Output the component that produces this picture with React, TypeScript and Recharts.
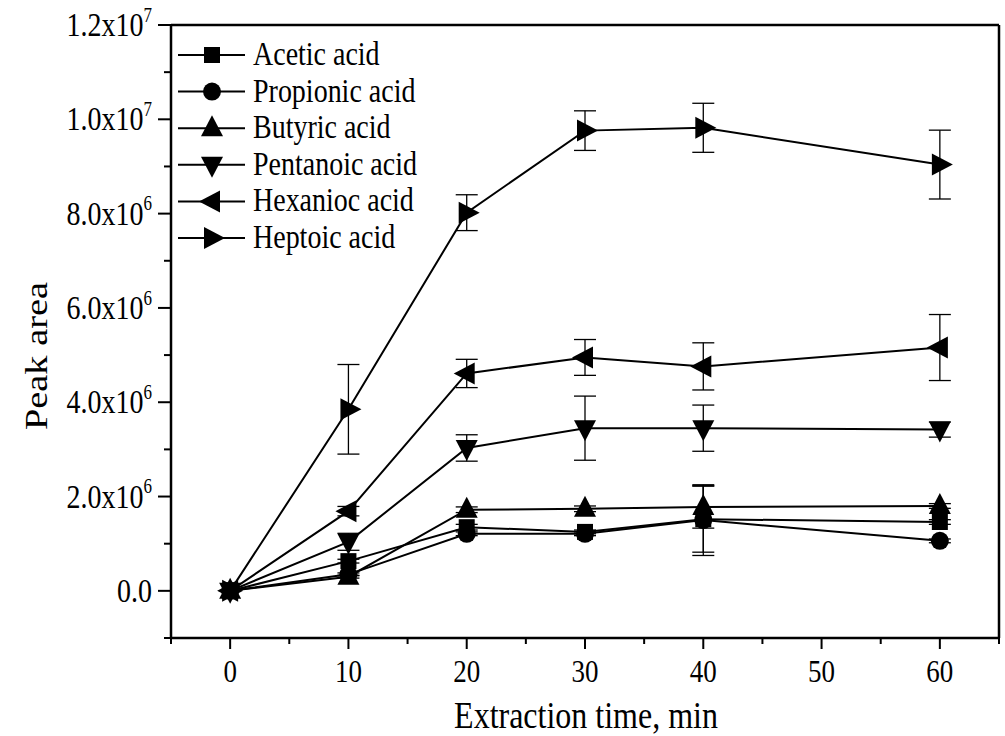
import { LineChart, Line, XAxis, YAxis, ErrorBar, ReferenceLine } from 'recharts'

const times = [0, 10, 20, 30, 40, 60]

const acetic = [0, 630000, 1350000, 1250000, 1520000, 1460000]
const propionic = [0, 350000, 1210000, 1210000, 1500000, 1060000]
const butyric = [0, 300000, 1720000, 1740000, 1780000, 1800000]
const pentanoic = [0, 1040000, 3030000, 3450000, 3450000, 3420000]
const hexanoic = [0, 1690000, 4610000, 4950000, 4760000, 5160000]
const heptoic = [0, 3850000, 8020000, 9760000, 9820000, 9040000]

const aceticErr = [0, 40000, 60000, 40000, 700000, 50000]
const propionicErr = [0, 30000, 40000, 40000, 750000, 40000]
const butyricErr = [0, 30000, 60000, 60000, 450000, 50000]
const pentanoicErr = [0, 180000, 280000, 680000, 490000, 160000]
const hexanoicErr = [0, 100000, 300000, 380000, 500000, 700000]
const heptoicErr = [0, 950000, 380000, 420000, 520000, 730000]

const xTicks = [-5, 0, 5, 10, 15, 20, 25, 30, 35, 40, 45, 50, 55, 60, 65]
const yTicks = [
  -1000000, 0, 1000000, 2000000, 3000000, 4000000, 5000000, 6000000, 7000000, 8000000, 9000000,
  10000000, 11000000, 12000000,
]

const FONT = '"Liberation Serif", "Times New Roman", serif'

type Shape = 'square' | 'circle' | 'up' | 'down' | 'left' | 'right'

const series: { key: string; name: string; shape: Shape; values: number[]; errors: number[] }[] = [
  { key: 'acetic', name: 'Acetic acid', shape: 'square', values: acetic, errors: aceticErr },
  { key: 'propionic', name: 'Propionic acid', shape: 'circle', values: propionic, errors: propionicErr },
  { key: 'butyric', name: 'Butyric acid', shape: 'up', values: butyric, errors: butyricErr },
  { key: 'pentanoic', name: 'Pentanoic acid', shape: 'down', values: pentanoic, errors: pentanoicErr },
  { key: 'hexanoic', name: 'Hexanioc acid', shape: 'left', values: hexanoic, errors: hexanoicErr },
  { key: 'heptoic', name: 'Heptoic acid', shape: 'right', values: heptoic, errors: heptoicErr },
]

const data = times.map((t, i) => {
  const row: Record<string, number> = { time: t }
  series.forEach((s) => {
    row[s.key] = s.values[i]
    row[s.key + 'Err'] = s.errors[i]
  })
  return row
})

function Marker({ shape, cx, cy }: { shape: Shape; cx: number; cy: number }) {
  if (cx == null || cy == null) return null
  switch (shape) {
    case 'square':
      return <rect x={cx - 8} y={cy - 8} width={16} height={16} fill="#000" />
    case 'circle':
      return <circle cx={cx} cy={cy} r={9} fill="#000" />
    case 'up':
      return <polygon points={`${cx - 11},${cy + 8} ${cx + 11},${cy + 8} ${cx},${cy - 13}`} fill="#000" />
    case 'down':
      return <polygon points={`${cx - 11},${cy - 8} ${cx + 11},${cy - 8} ${cx},${cy + 13}`} fill="#000" />
    case 'left':
      return <polygon points={`${cx + 8},${cy - 11} ${cx + 8},${cy + 11} ${cx - 13},${cy}`} fill="#000" />
    default:
      return <polygon points={`${cx - 8},${cy - 11} ${cx - 8},${cy + 11} ${cx + 13},${cy}`} fill="#000" />
  }
}

function XTick({ x, y, payload }: any) {
  const v = payload.value
  const major = v % 10 === 0 && v >= 0 && v <= 60
  return (
    <g>
      <line x1={x} x2={x} y1={y} y2={y + (major ? 11 : 6)} stroke="#000" strokeWidth={2} />
      {major && (
        <text
          transform={`translate(${x},${y + 44}) scale(1,1.2)`}
          textAnchor="middle"
          fontSize={27}
          fontFamily={FONT}
          fill="#000"
        >
          {v}
        </text>
      )}
    </g>
  )
}

function YTick({ x, y, payload }: any) {
  const v = payload.value
  const major = v % 2000000 === 0 && v >= 0
  let label: any = null
  if (major) {
    if (v === 0) {
      label = '0.0'
    } else {
      const exp = v >= 10000000 ? 7 : 6
      const mant = (v / Math.pow(10, exp)).toFixed(1)
      label = (
        <>
          {mant + 'x10'}
          <tspan fontSize={17} dy={-12}>
            {exp}
          </tspan>
        </>
      )
    }
  }
  return (
    <g>
      <line x1={x - (major ? 13 : 7)} x2={x} y1={y} y2={y} stroke="#000" strokeWidth={2} />
      {major && (
        <text
          transform={`translate(${x - 19},${y + 11}) scale(1,1.2)`}
          textAnchor="end"
          fontSize={28}
          fontFamily={FONT}
          fill="#000"
        >
          {label}
        </text>
      )}
    </g>
  )
}

function LegendBox() {
  return (
    <svg width={260} height={240} style={{ position: 'absolute', left: 171, top: 25 }}>
      {series.map((s, i) => {
        const cy = 30 + i * 36.6
        return (
          <g key={s.key}>
            <line x1={7} x2={74} y1={cy} y2={cy} stroke="#000" strokeWidth={2} />
            <Marker shape={s.shape} cx={41} cy={cy} />
            <text
              transform={`translate(82,${cy + 10}) scale(1,1.2)`}
              fontSize={28}
              fontFamily={FONT}
              fill="#000"
            >
              {s.name}
            </text>
          </g>
        )
      })}
    </svg>
  )
}

export default function App() {
  return (
    <div style={{ position: 'absolute', left: 0, top: 0, width: 1005, height: 736, background: '#fff' }}>
      <LineChart width={1005} height={736} data={data} margin={{ top: 25, right: 6, bottom: 0, left: 0 }}>
        <XAxis
          dataKey="time"
          type="number"
          domain={[-5, 65]}
          ticks={xTicks}
          interval={0}
          height={98}
          tickSize={0}
          tickMargin={0}
          tickLine={false}
          axisLine={{ stroke: '#000', strokeWidth: 2.5 }}
          tick={<XTick />}
          label={{
            content: () => (
              <text
                transform="translate(586,728) scale(1,1.2)"
                textAnchor="middle"
                fontSize={32}
                fontFamily={FONT}
                fill="#000"
              >
                Extraction time, min
              </text>
            ),
          }}
        />
        <YAxis
          type="number"
          domain={[-1000000, 12000000]}
          ticks={yTicks}
          interval={0}
          width={171}
          tickSize={0}
          tickMargin={0}
          tickLine={false}
          axisLine={{ stroke: '#000', strokeWidth: 2.5 }}
          tick={<YTick />}
          label={{
            content: () => (
              <text
                transform="translate(47,356) scale(1,1.2) rotate(-90)"
                textAnchor="middle"
                fontSize={32}
                fontFamily={FONT}
                fill="#000"
              >
                Peak area
              </text>
            ),
          }}
        />
        <ReferenceLine x={65} stroke="#000" strokeWidth={2.5} />
        <ReferenceLine y={12000000} stroke="#000" strokeWidth={2.5} />
        {series.map((s) => (
          <Line
            key={s.key}
            type="linear"
            dataKey={s.key}
            name={s.name}
            stroke="#000"
            strokeWidth={2}
            isAnimationActive={false}
            activeDot={false}
            dot={(p: any) => <Marker key={`${s.key}-${p.index}`} shape={s.shape} cx={p.cx} cy={p.cy} />}
          >
            <ErrorBar
              dataKey={s.key + 'Err'}
              width={11}
              stroke="#000"
              strokeWidth={1.3}
              direction="y"
              isAnimationActive={false}
            />
          </Line>
        ))}
      </LineChart>
      <LegendBox />
    </div>
  )
}
